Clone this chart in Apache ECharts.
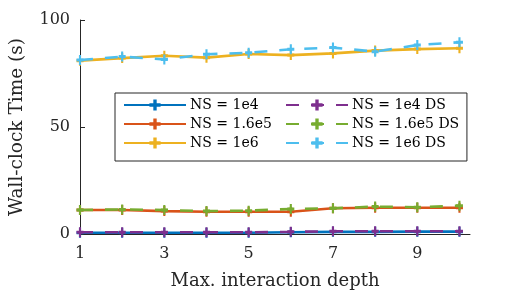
<!DOCTYPE html>
<html><head><meta charset="utf-8">
<script src="https://cdn.jsdelivr.net/npm/echarts@6/dist/echarts.min.js"></script>
<style>html,body{margin:0;padding:0;background:#fff}#c{width:520px;height:295px}</style>
</head><body><div id="c"></div>
<script>
const depth = [1, 2, 3, 4, 5, 6, 7, 8, 9, 10];
const xTicks = [1, 3, 5, 7, 9];
const yTicks = [0, 50, 100];
const ns1e4 = [0.6, 0.6, 0.6, 0.6, 0.6, 0.8, 1.0, 1.0, 1.1, 1.1];
const ns16e5 = [11.2, 11.2, 10.7, 10.4, 10.4, 10.4, 12.0, 12.3, 12.3, 12.3];
const ns1e6 = [81.0, 82.2, 83.3, 82.4, 84.1, 83.6, 84.4, 85.7, 86.4, 86.8];
const ns1e4DS = [0.8, 0.8, 0.8, 0.8, 0.8, 1.0, 1.3, 1.3, 1.3, 1.3];
const ns16e5DS = [11.2, 11.5, 11.2, 10.7, 10.9, 11.7, 12.0, 12.8, 12.5, 13.2];
const ns1e6DS = [81.3, 82.9, 81.6, 84.0, 84.7, 86.3, 87.1, 85.2, 88.3, 89.6];
const names = ['NS = 1e4', 'NS = 1.6e5', 'NS = 1e6', 'NS = 1e4 DS', 'NS = 1.6e5 DS', 'NS = 1e6 DS'];
const colors = ['#0072BD', '#D95319', '#EDB120', '#7E2F8E', '#77AC30', '#4DBEEE'];
const values = [ns1e4, ns16e5, ns1e6, ns1e4DS, ns16e5DS, ns1e6DS];

const FONT = 'DejaVu Serif';
const INK = '#262626';
const plus = 'path://M3.5,0h3v3.5h3.5v3h-3.5v3.5h-3v-3.5h-3.5v-3h3.5z';

const legendCommon = {
  orient: 'vertical', top: 93, itemGap: 5, itemWidth: 62, itemHeight: 14,
  textStyle: {fontFamily: FONT, fontSize: 14, color: '#000', padding: [0, 0, 0, -1]}
};

const chart = echarts.init(document.getElementById('c'), null, {renderer: 'canvas'});
chart.setOption({
  animation: false,
  backgroundColor: '#fff',
  textStyle: {fontFamily: FONT},
  grid: {left: 72, right: 50, top: 20, bottom: 61},
  xAxis: {
    type: 'value', min: 1, max: 10.25,
    name: 'Max. interaction depth', nameLocation: 'middle', nameGap: 38,
    nameTextStyle: {fontFamily: FONT, fontSize: 18, color: INK},
    axisLine: {lineStyle: {color: INK, width: 1}},
    axisTick: {inside: true, length: 5, customValues: xTicks, lineStyle: {color: INK}},
    axisLabel: {customValues: xTicks, fontFamily: FONT, fontSize: 16, color: INK, margin: 12},
    splitLine: {show: false}
  },
  yAxis: {
    type: 'value', min: 0, max: 100, interval: 50,
    name: 'Wall-clock Time (s)', nameLocation: 'middle', nameGap: 53,
    nameTextStyle: {fontFamily: FONT, fontSize: 18.5, color: INK},
    axisLine: {show: true, lineStyle: {color: INK, width: 1}},
    axisTick: {show: true, inside: true, length: 5, customValues: yTicks, lineStyle: {color: INK}},
    axisLabel: {customValues: yTicks, fontFamily: FONT, fontSize: 16, color: INK, margin: 10},
    splitLine: {show: false}
  },
  legend: [
    Object.assign({}, legendCommon, {
      left: 115, padding: [5, 195, 11, 8],
      backgroundColor: '#fff', borderColor: INK, borderWidth: 1,
      data: names.slice(0, 3)
    }),
    Object.assign({}, legendCommon, {
      left: 277, padding: [5, 0, 11, 8], borderWidth: 0,
      data: names.slice(3)
    })
  ],
  series: names.map((n, i) => ({
    name: n, type: 'line',
    data: depth.map((d, j) => [d, values[i][j]]),
    symbol: plus, symbolSize: [7, 10],
    itemStyle: {color: colors[i]},
    lineStyle: {color: colors[i], width: 2.6, type: i >= 3 ? [13, 12] : 'solid'},
    z: 2 + i
  }))
});
</script></body></html>
